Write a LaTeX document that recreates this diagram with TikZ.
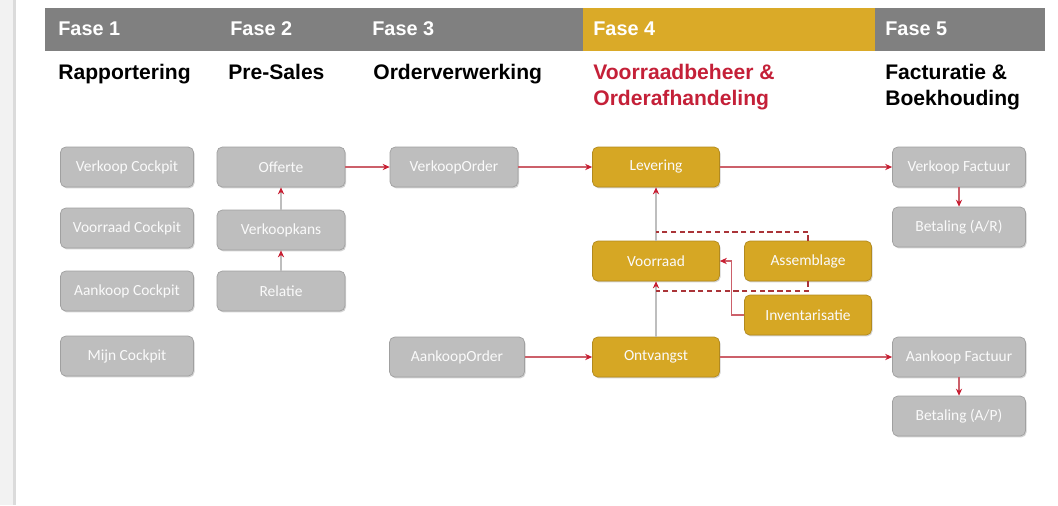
\documentclass[tikz,border=0pt]{standalone}
\usepackage{fontspec}
\setmainfont{Liberation Sans}
\newfontfamily\boxfont{Carlito}
\usetikzlibrary{shadows}
\usetikzlibrary{arrows.meta}
\definecolor{bargray}{RGB}{128,128,128}
\definecolor{bargold}{RGB}{218,170,40}
\definecolor{boxgray}{RGB}{190,190,190}
\definecolor{boxline}{RGB}{160,160,160}
\definecolor{boxgold}{RGB}{214,167,36}
\definecolor{goldline}{RGB}{178,138,30}
\definecolor{titlered}{RGB}{196,32,56}
\definecolor{linkred}{RGB}{204,96,106}
\definecolor{tipred}{RGB}{200,30,50}
\definecolor{linkgray}{RGB}{190,190,190}
\definecolor{dashred}{RGB}{170,52,56}
\tikzstyle{phase}=[anchor=west,inner sep=0pt,text=white,font=\bfseries\fontsize{11.3}{13}\selectfont]
\tikzstyle{title}=[anchor=north west,inner sep=0pt,align=left,font=\bfseries\fontsize{12}{14.8}\selectfont]
\tikzstyle{module}=[draw=boxline,fill=boxgray,rounded corners=3pt,minimum width=2.66cm,minimum height=0.8cm,
  text=white!96!gray,font=\boxfont\fontsize{8.8}{10}\selectfont,drop shadow={shadow xshift=0.6pt,shadow yshift=-0.8pt,opacity=0.35}]
\tikzstyle{stock}=[module,draw=goldline,fill=boxgold,minimum width=2.54cm]
\tikzstyle{flow}=[draw=linkred,line width=0.6pt,-{Stealth[length=4pt,width=3.6pt,color=tipred]}]
\tikzstyle{feed}=[flow,draw=linkgray]
\tikzstyle{side}=[draw=dashred,line width=0.7pt,dash pattern=on 3pt off 2pt]

\begin{document}
\begin{tikzpicture}[x=0.02cm,y=-0.02cm]
    \useasboundingbox (0,0) rectangle (1058,505);
    \fill[gray!10] (0,0) rectangle (13,505);
    \fill[gray!28] (13,0) rectangle (16,505);
    \fill[bargray] (45,8) rectangle (583,51);
    \fill[bargold] (583,8) rectangle (875,51);
    \fill[bargray] (875,8) rectangle (1045,51);

    \node[phase] (f1) at (58,29) {Fase 1};
    \node[phase] (f2) at (230,29) {Fase 2};
    \node[phase] (f3) at (372,29) {Fase 3};
    \node[phase] (f4) at (593,29) {Fase 4};
    \node[phase] (f5) at (885,29) {Fase 5};

    \node[title] (t1) at (58,63.5) {Rapportering};
    \node[title] (t2) at (228,63.5) {Pre-Sales};
    \node[title] (t3) at (373,63.5) {Orderverwerking};
    \node[title,text=titlered] (t4) at (593,63.5) {Voorraadbeheer \&\\Orderafhandeling};
    \node[title] (t5) at (885,63.5) {Facturatie \&\\Boekhouding};

    \node[module] (vkc) at (127,167) {Verkoop Cockpit};
    \node[module] (voc) at (127,228) {Voorraad Cockpit};
    \node[module] (akc) at (127,291) {Aankoop Cockpit};
    \node[module] (mic) at (127,356) {Mijn Cockpit};

    \node[module,minimum width=2.56cm] (off) at (281,167) {Offerte};
    \node[module,minimum width=2.56cm] (vkk) at (281,230) {Verkoopkans};
    \node[module,minimum width=2.56cm] (rel) at (281,291) {Relatie};

    \node[module,minimum width=2.56cm] (vko) at (454,167) {VerkoopOrder};
    \node[module,minimum width=2.7cm] (ako) at (457,357) {AankoopOrder};

    \node[stock] (lev) at (656,167) {Levering};
    \node[stock] (voo) at (656,261) {Voorraad};
    \node[stock] (asm) at (808,261) {Assemblage};
    \node[stock] (inv) at (808,315) {Inventarisatie};
    \node[stock] (ont) at (656,357) {Ontvangst};

    \node[module] (vkf) at (959,167) {Verkoop Factuur};
    \node[module] (bar) at (959,227) {Betaling (A/R)};
    \node[module] (akf) at (959,357) {Aankoop Factuur};
    \node[module] (bap) at (959,416) {Betaling (A/P)};

    \coordinate (dtop) at (656,232);
    \coordinate (dbot) at (656,291);

    \draw[feed] (vkk) -- (off);
    \draw[feed] (rel) -- (vkk);
    \draw[flow] (off) -- (vko);
    \draw[flow] (vko) -- (lev);
    \draw[flow] (lev) -- (vkf);
    \draw[flow] (vkf) -- (bar);
    \draw[flow] (ako) -- (ont);
    \draw[flow] (ont) -- (akf);
    \draw[flow] (akf) -- (bap);
    \draw[feed] (voo) -- (lev);
    \draw[feed] (ont) -- (voo);
    \draw[flow] (inv.west) -- ++(-13,0) |- (voo.east);
    \draw[side] (asm.north) |- (dtop);
    \draw[side] (asm.south) |- (dbot);
  \end{tikzpicture}
\end{document}
